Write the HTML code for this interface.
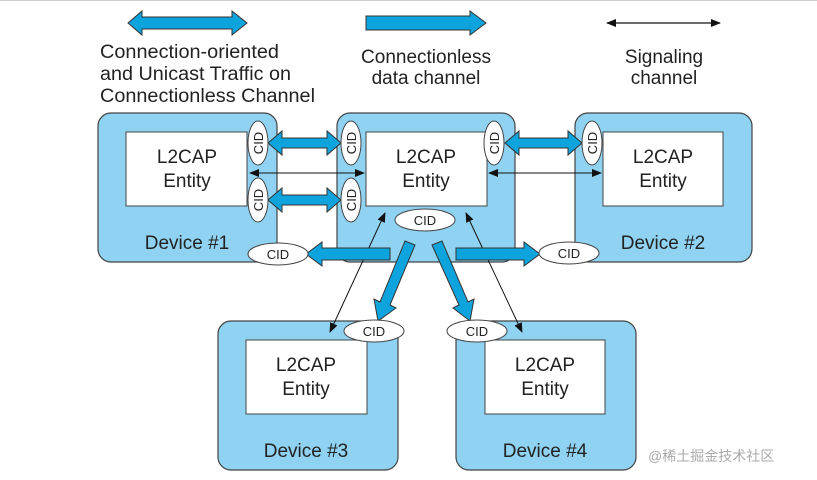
<!DOCTYPE html>
<html><head><meta charset="utf-8"><style>
html,body{margin:0;padding:0;background:#fff;}
svg{display:block;}
text{font-family:"Liberation Sans",Arial,sans-serif;fill:#222;}
</style></head><body>
<svg width="817" height="480" viewBox="0 0 817 480" xmlns="http://www.w3.org/2000/svg">
<defs>
<marker id="ah" markerWidth="10" markerHeight="8" refX="9" refY="4" orient="auto" markerUnits="userSpaceOnUse">
<path d="M0,0 L10,4 L0,8 z" fill="#111"/></marker>
<marker id="ahs" markerWidth="10" markerHeight="8" refX="1" refY="4" orient="auto" markerUnits="userSpaceOnUse">
<path d="M10,0 L0,4 L10,8 z" fill="#111"/></marker>
</defs>
<line x1="0" y1="0.5" x2="817" y2="0.5" stroke="#ccc"/>
<!-- legend -->
<polygon points="128,23 142,11 142,17 232,17 232,11 247,23 232,35 232,29 142,29 142,35" fill="#0da3dc" stroke="#333" stroke-width="1"/>
<polygon points="366,16 470,16 470,11 486,23 470,35 470,30 366,30" fill="#0da3dc" stroke="#333" stroke-width="1"/>
<line x1="607" y1="23" x2="720" y2="23" stroke="#111" stroke-width="1.2" marker-end="url(#ah)" marker-start="url(#ahs)"/>
<g font-size="19">
<text x="100" y="58" textLength="179" lengthAdjust="spacingAndGlyphs">Connection-oriented</text>
<text x="100" y="80" textLength="191" lengthAdjust="spacingAndGlyphs">and Unicast Traffic on</text>
<text x="100" y="102" textLength="215" lengthAdjust="spacingAndGlyphs">Connectionless Channel</text>
<text x="426" y="63" text-anchor="middle">Connectionless</text>
<text x="426" y="84" text-anchor="middle">data channel</text>
<text x="664" y="63" text-anchor="middle">Signaling</text>
<text x="664" y="84" text-anchor="middle">channel</text>
</g>
<!-- devices -->
<g fill="#8fd2f1" stroke="#444" stroke-width="1.2">
<rect x="98" y="113" width="179" height="149" rx="13"/>
<rect x="337" y="113" width="178" height="149" rx="13"/>
<rect x="575" y="113" width="177" height="149" rx="13"/>
<rect x="218" y="321" width="180" height="149" rx="13"/>
<rect x="456" y="321" width="180" height="149" rx="13"/>
</g>
<g fill="#fff" stroke="#444" stroke-width="1">
<rect x="126" y="132" width="121" height="74"/>
<rect x="366" y="132" width="121" height="74"/>
<rect x="603" y="132" width="120" height="74"/>
<rect x="246" y="340" width="121" height="74"/>
<rect x="485" y="340" width="120" height="74"/>
</g>
<g font-size="19" text-anchor="middle">
<text x="187" y="163">L2CAP</text><text x="187" y="187">Entity</text>
<text x="426" y="163">L2CAP</text><text x="426" y="187">Entity</text>
<text x="663" y="163">L2CAP</text><text x="663" y="187">Entity</text>
<text x="306" y="371">L2CAP</text><text x="306" y="395">Entity</text>
<text x="545" y="371">L2CAP</text><text x="545" y="395">Entity</text>
<text x="187" y="249">Device #1</text>
<text x="663" y="249">Device #2</text>
<text x="306" y="457">Device #3</text>
<text x="545" y="457">Device #4</text>
</g>
<!-- thin signaling lines -->
<g stroke="#111" stroke-width="1" marker-end="url(#ah)" marker-start="url(#ahs)">
<line x1="250" y1="173" x2="364" y2="173"/>
<line x1="489" y1="173" x2="601" y2="173"/>
<line x1="330" y1="332" x2="385" y2="213"/>
<line x1="522" y1="332" x2="466" y2="213"/>
</g>
<!-- thick double arrows -->
<g fill="#0da3dc" stroke="#333" stroke-width="1">
<polygon points="268,143 282,131 282,138 327,138 327,131 341,143 327,155 327,148 282,148 282,155"/>
<polygon points="268,200 282,188 282,195 327,195 327,188 341,200 327,212 327,205 282,205 282,212"/>
<polygon points="505,143 519,131 519,138 568,138 568,131 582,143 568,155 568,148 519,148 519,155"/>
<polygon points="390,248 322,248 322,242 306,254 322,266 322,260 390,260"/>
<polygon points="456,248 524,248 524,242 540,254 524,266 524,260 456,260"/>
<polygon points="405,241 415,245 390,305 396,308 378,321 374,299 380,302"/>
<polygon points="432,245 442,241 468,302 474,299 470,321 453,308 459,305"/>
</g>
<!-- CIDs -->
<g fill="#fff" stroke="#444" stroke-width="1">
<ellipse cx="258" cy="143" rx="10" ry="22"/>
<ellipse cx="258" cy="200" rx="10" ry="22"/>
<ellipse cx="351" cy="143" rx="10" ry="22"/>
<ellipse cx="351" cy="200" rx="10" ry="22"/>
<ellipse cx="494" cy="143" rx="10" ry="22"/>
<ellipse cx="592" cy="143" rx="10" ry="22"/>
<ellipse cx="425" cy="220" rx="30" ry="11"/>
<ellipse cx="278" cy="254" rx="30" ry="11"/>
<ellipse cx="569" cy="253" rx="30" ry="11"/>
<ellipse cx="374" cy="331" rx="30" ry="11"/>
<ellipse cx="477" cy="331" rx="30" ry="11"/>
</g>
<g font-size="13" text-anchor="middle">
<text x="425" y="225">CID</text>
<text x="278" y="259">CID</text>
<text x="569" y="258">CID</text>
<text x="374" y="336">CID</text>
<text x="477" y="336">CID</text>
<text transform="translate(263,143) rotate(-90)">CID</text>
<text transform="translate(263,200) rotate(-90)">CID</text>
<text transform="translate(356,143) rotate(-90)">CID</text>
<text transform="translate(356,200) rotate(-90)">CID</text>
<text transform="translate(499,143) rotate(-90)">CID</text>
<text transform="translate(597,143) rotate(-90)">CID</text>
</g>
<text x="648" y="461" font-size="14" style="fill:#aaa;font-family:'Liberation Sans','Noto Sans CJK SC',sans-serif">@稀土掘金技术社区</text>
</svg>
</body></html>
